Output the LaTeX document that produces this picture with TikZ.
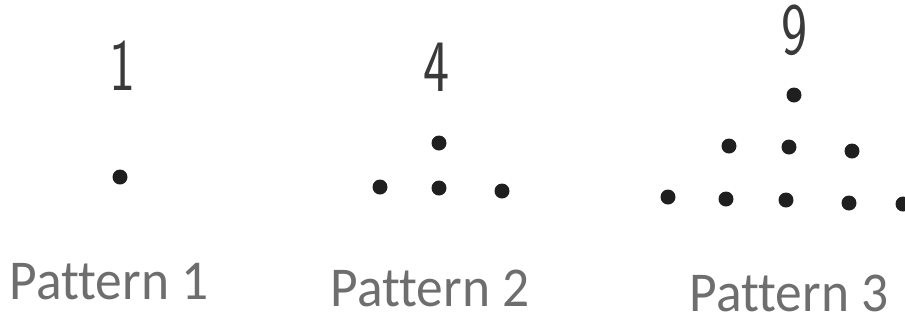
\documentclass[tikz,border=0pt]{standalone}
\usepackage{fontspec}
\setmainfont{Carlito}[Ligatures=NoCommon]
\usepackage{tikz}
\usetikzlibrary{calc}
\definecolor{labgray}{HTML}{6E6E6E}
\definecolor{pen}{HTML}{3A3A3A}
\begin{document}
\begin{tikzpicture}[x=0.01cm,y=-0.01cm]
				\useasboundingbox (0,0) rectangle (905,323);
				% pattern 1
				\coordinate (A) at (120,177);
				% pattern 2
				\coordinate (B1) at (439,143);
				\coordinate (B2) at (380,187);
				\coordinate (B3) at (439,188);
				\coordinate (B4) at (502,191);
				% pattern 3
				\coordinate (C1) at (794,95);
				\coordinate (C2) at (729,146);
				\coordinate (C3) at (789,147);
				\coordinate (C4) at (852,151);
				\coordinate (C5) at (668,197);
				\coordinate (C6) at (726,199);
				\coordinate (C7) at (786,200);
				\coordinate (C8) at (849,203);
				\coordinate (C9) at (903,204);
				\fill[black!88] (A) circle (7.5);
				\foreach \p in {B1,B2,B3,B4}
					\fill[black!88] (\p) circle (7.5);
				\foreach \p in {C1,C2,C3,C4,C5,C6,C7,C8,C9}
					\fill[black!88] (\p) circle (7.5);
				\node[pen,font=\sffamily\fontsize{21}{21}\selectfont,xscale=0.75] (n1) at (123,66) {1};
				\node[pen,font=\sffamily\fontsize{21}{21}\selectfont,xscale=0.75] (n2) at (437,67) {4};
				\node[pen,font=\sffamily\fontsize{21}{21}\selectfont,xscale=0.75] (n3) at (795,30) {9};
				\node[labgray,font=\fontsize{16}{16}\selectfont,xscale=0.95] (p1) at (109,282) {Pattern 1};
				\node[labgray,font=\fontsize{16}{16}\selectfont,xscale=0.95] (p2) at (430,288) {Pattern 2};
				\node[labgray,font=\fontsize{16}{16}\selectfont,xscale=0.95] (p3) at (789,293) {Pattern 3};
			\end{tikzpicture}
\end{document}
